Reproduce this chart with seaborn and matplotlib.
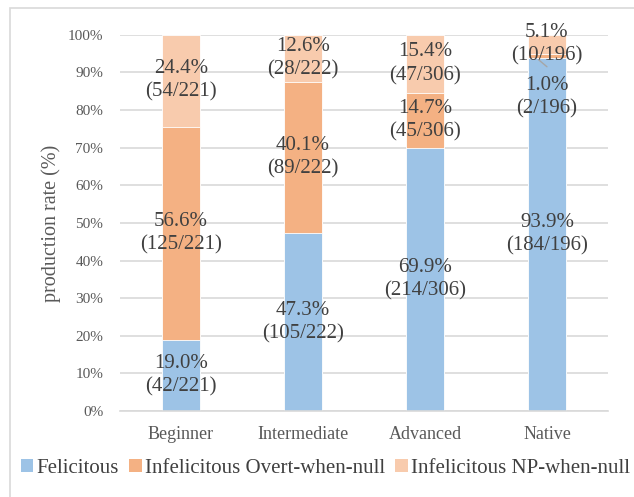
import numpy as np
import pandas as pd
import matplotlib
matplotlib.use("Agg")
import matplotlib.pyplot as plt
import seaborn as sns
from matplotlib.patches import Patch, Rectangle

# data
levels = ["Beginner", "Intermediate", "Advanced", "Native"]
series = ["Felicitous", "Infelicitous Overt-when-null", "Infelicitous NP-when-null"]
felicitous = [19.0, 47.3, 69.9, 93.9]
overt_null = [56.6, 40.1, 14.7, 1.0]
np_null = [24.4, 12.6, 15.4, 5.1]
felicitous_counts = ["42/221", "105/222", "214/306", "184/196"]
overt_counts = ["125/221", "89/222", "45/306", "2/196"]
np_counts = ["54/221", "28/222", "47/306", "10/196"]

colors = ["#9DC3E6", "#F4B183", "#F8CBAD"]
text_col = "#404040"
tick_col = "#595959"
grid_col = "#D9D9D9"

sns.set_theme(style="white")
plt.rcParams["font.family"] = ["Liberation Serif", "DejaVu Serif"]

df = pd.DataFrame({"level": levels, "fel": felicitous, "overt": overt_null, "np": np_null})
df["top_overt"] = df["fel"] + df["overt"]
df["top_np"] = df["top_overt"] + df["np"]

fig = plt.figure(figsize=(6.34, 4.97), dpi=100)
ax = fig.add_axes([0.189, 0.173, 0.770, 0.757])

# stacked bars: draw cumulative totals from top layer down
for col, c in zip(["top_np", "top_overt", "fel"], colors[::-1]):
    sns.barplot(data=df, x="level", y=col, color=c, width=0.31, ax=ax,
                saturation=1, errorbar=None, zorder=2,
                edgecolor="white", linewidth=0.6)

ax.set_xlim(-0.5, 3.5)
ax.set_ylim(0, 100)
ax.set_yticks(np.arange(0, 101, 10))
ax.set_yticklabels([f"{v}%" for v in range(0, 101, 10)], fontsize=11, color=tick_col)
ax.tick_params(axis="x", labelsize=13, labelcolor=tick_col, length=0, pad=11)
ax.tick_params(axis="y", length=0, pad=12)
ax.set_xlabel("")
ax.set_ylabel("production rate (%)", fontsize=14.5, color=tick_col, labelpad=5)
ax.yaxis.grid(True, color=grid_col, linewidth=1.2, zorder=0)
ax.set_axisbelow(True)
for s in ["top", "right", "left"]:
    ax.spines[s].set_visible(False)
ax.spines["bottom"].set_color(grid_col)
ax.spines["bottom"].set_linewidth(1.2)

# labels sit at segment centres; the tiny Native overt label was moved down
overt_shift = [0, 0, 0, -11.0]
for i in range(len(levels)):
    f, o, n = felicitous[i], overt_null[i], np_null[i]
    ax.text(i, f / 2, f"{f:.1f}%\n({felicitous_counts[i]})",
            ha="center", va="center", fontsize=15, color=text_col, linespacing=1.3, zorder=4)
    ax.text(i, f + o / 2 + overt_shift[i], f"{o:.1f}%\n({overt_counts[i]})",
            ha="center", va="center", fontsize=15, color=text_col, linespacing=1.3, zorder=4)
    ax.text(i, f + o + n / 2, f"{n:.1f}%\n({np_counts[i]})",
            ha="center", va="center", fontsize=15, color=text_col, linespacing=1.3, zorder=4)

# leader line for the moved Native label
i = 3
seg_mid = felicitous[i] + overt_null[i] / 2
ax.plot([i - 0.07, i], [seg_mid - 1.0, seg_mid - 2.9], color="#A6A6A6", lw=1, zorder=5)

handles = [Patch(facecolor=c, edgecolor="none") for c in colors]
fig.legend(handles, series, loc="center", bbox_to_anchor=(0.513, 0.057), ncol=3,
           frameon=False, fontsize=15, handlelength=0.6, handleheight=0.6,
           handletextpad=0.15, columnspacing=0.5, labelcolor=text_col)

# chart frame
fig.patches.append(Rectangle((10 / 634, -0.05), 1.05, 1 - 8 / 497 + 0.05,
                             transform=fig.transFigure, fill=False,
                             edgecolor=grid_col, linewidth=1.2))

fig.savefig("out.png", dpi=100)
